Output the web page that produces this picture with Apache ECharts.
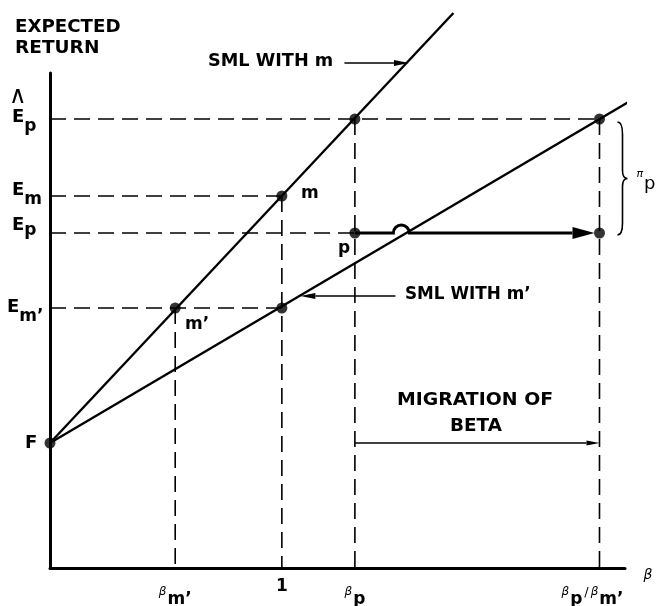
<!DOCTYPE html>
<html><head><meta charset="utf-8">
<script src="https://cdn.jsdelivr.net/npm/echarts@6/dist/echarts.min.js"></script>
<style>html,body{margin:0;padding:0;background:#fff}#c{width:659px;height:606px}</style>
</head><body><div id="c"></div>
<script>
// ---- data ----
const betaTicks = [0.54, 1, 1.315, 2.37];
const betaTickLabels = ['{b|β}{s|m’}', '{n|1}', '{b|β}{s|p}', '{b|β}{s|p}{sl|/}{b|β}{se|m’}'];
const returnTicks = [1.25, 2.60, 3.35, 3.72, 4.49];
const returnTickLabels = ['{F|F}', '{Ed|E}{sd|m’}', '{Ec|E}{sc|p}', '{Eb|E}{sb|m}', '{hat|∧}\n{Ea|E}{sa|p}\n{gap| }'];
const smlM = [[0, 1.25], [1.74, 5.55]];
const smlMPrime = [[0, 1.25], [2.62, 4.83]];
const keyPoints = [[0, 1.25], [0.54, 2.60], [1, 3.72], [1, 2.60], [1.315, 3.35], [1.315, 4.49], [2.37, 4.49], [2.37, 3.35]];
const dashedSegments = [
  [[0, 4.49], [2.37, 4.49]],
  [[0, 3.72], [1, 3.72]],
  [[0, 3.35], [1.315, 3.35]],
  [[0, 2.60], [1, 2.60]],
  [[0.54, 2.60], [0.54, 0]],
  [[1, 3.72], [1, 0]],
  [[1.315, 4.49], [1.315, 0]],
  [[2.37, 4.49], [2.37, 0]]
];
const pointerArrows = [[1.27, 5.05, 1.548, 5.05], [1.49, 2.72, 1.08, 2.72]];
const migrationArrow = [[1.315, 1.25, 2.37, 1.25]];
const portfolioShift = [[1.315, 3.35, 2.37, 3.35]];
const premiumBrace = [[2.37, 4.49, 3.35]];

const FONT = '"DejaVu Sans", sans-serif';
const chart = echarts.init(document.getElementById('c'), null, {renderer: 'canvas'});

function arrowItem(lw, headLen, headW) {
  return function (params, api) {
    const s = api.coord([api.value(0), api.value(1)]);
    const e = api.coord([api.value(2), api.value(3)]);
    const dx = e[0] - s[0], dy = e[1] - s[1];
    const L = Math.sqrt(dx * dx + dy * dy), ux = dx / L, uy = dy / L;
    const bx = e[0] - ux * headLen, by = e[1] - uy * headLen;
    return {
      type: 'group', children: [
        {type: 'line', shape: {x1: s[0], y1: s[1], x2: bx, y2: by}, style: {stroke: '#000', lineWidth: lw}},
        {type: 'polygon', shape: {points: [[e[0], e[1]], [bx - uy * headW / 2, by + ux * headW / 2], [bx + uy * headW / 2, by - ux * headW / 2]]}, style: {fill: '#000'}}
      ]
    };
  };
}

const series = [];
dashedSegments.forEach(function (seg) {
  series.push({type: 'line', data: seg, symbol: 'none', clip: false, silent: true,
    lineStyle: {color: '#000', width: 1.6, type: [16, 8]}});
});
series.push({type: 'line', data: smlM, symbol: 'none', clip: false, lineStyle: {color: '#000', width: 2.4}});
series.push({type: 'line', data: smlMPrime, symbol: 'none', clip: false, lineStyle: {color: '#000', width: 2.4}});
series.push({type: 'custom', data: pointerArrows, clip: false, renderItem: arrowItem(1.5, 15, 6)});
series.push({type: 'custom', data: migrationArrow, clip: false, renderItem: arrowItem(1.5, 13, 5)});
series.push({type: 'custom', data: portfolioShift, clip: false, renderItem: function (params, api) {
  const y = api.value(1);
  const s = api.coord([api.value(0), y]);
  const e = api.coord([api.value(2), y]);
  const slope = (smlMPrime[1][1] - smlMPrime[0][1]) / (smlMPrime[1][0] - smlMPrime[0][0]);
  const cross = api.coord([smlMPrime[0][0] + (y - smlMPrime[0][1]) / slope, y]);
  const r = 8, headLen = 22, headW = 12;
  const tip = e[0] - 5, base = tip - headLen;
  const hx = cross[0] - 5;
  const d = 'M' + s[0] + ' ' + s[1] + ' L' + (hx - r) + ' ' + s[1] +
    ' A' + r + ' ' + r + ' 0 0 1 ' + (hx + r) + ' ' + s[1] + ' L' + base + ' ' + s[1];
  return {type: 'group', children: [
    {type: 'path', shape: {pathData: d}, style: {stroke: '#000', lineWidth: 3, fill: null}},
    {type: 'polygon', shape: {points: [[tip, s[1]], [base, s[1] - headW / 2], [base, s[1] + headW / 2]]}, style: {fill: '#000'}}
  ]};
}});
series.push({type: 'custom', data: premiumBrace, clip: false, renderItem: function (params, api) {
  const t = api.coord([api.value(0), api.value(1)]);
  const b = api.coord([api.value(0), api.value(2)]);
  const x0 = t[0] + 18, yT = t[1] + 3, yB = b[1] + 2, ym = (yT + yB) / 2;
  const d = 'M' + x0 + ' ' + yT + ' Q' + (x0 + 5) + ' ' + yT + ' ' + (x0 + 5) + ' ' + (yT + 12) +
    ' L' + (x0 + 5) + ' ' + (ym - 8) + ' Q' + (x0 + 5) + ' ' + ym + ' ' + (x0 + 10) + ' ' + ym +
    ' Q' + (x0 + 5) + ' ' + ym + ' ' + (x0 + 5) + ' ' + (ym + 8) +
    ' L' + (x0 + 5) + ' ' + (yB - 12) + ' Q' + (x0 + 5) + ' ' + yB + ' ' + x0 + ' ' + yB;
  return {type: 'group', children: [
    {type: 'path', shape: {pathData: d}, style: {stroke: '#000', lineWidth: 1.6, fill: null}},
    {type: 'text', style: {text: '{pi|π}{p|p}', x: x0 + 19, y: ym, verticalAlign: 'middle',
      rich: {pi: {fontSize: 11, fontFamily: FONT, fontStyle: 'italic', lineHeight: 14, padding: [0, 1, 8, 0]},
             p: {fontSize: 18, fontFamily: FONT, lineHeight: 14, padding: [12, 0, 0, 0]}}}}
  ]};
}});
series.push({type: 'scatter', data: keyPoints, symbol: 'circle', symbolSize: 11, clip: false,
  itemStyle: {color: '#000'}, z: 5});

function txt(text, x, y, sx, align) {
  return {type: 'text', x: x, y: y, scaleX: sx || 1,
    style: {text: text, x: 0, y: 0, fill: '#000', font: 'bold 17px ' + FONT,
      verticalAlign: 'middle', align: align || 'left'}};
}

function st(size, weight, shift, extra) {
  // shift > 0 moves the glyph down, < 0 moves it up (half the padding difference)
  const pad = shift >= 0 ? [2 * shift, 0, 0, 0] : [0, 0, -2 * shift, 0];
  if (extra) { pad[1] = extra[1] || 0; pad[3] = extra[3] || 0; }
  return {fontSize: size, fontFamily: FONT, fontWeight: weight, lineHeight: 18, padding: pad, color: '#000'};
}

const option = {
  animation: false,
  backgroundColor: '#fff',
  grid: {left: 50, top: 73, right: 34, bottom: 38, containLabel: false, outerBoundsMode: 'none'},
  xAxis: {
    type: 'value', min: 0, max: 2.48,
    axisLine: {show: true, onZero: false, lineStyle: {color: '#000', width: 3}},
    axisTick: {show: false}, splitLine: {show: false},
    name: 'β', nameLocation: 'end', nameGap: 7,
    nameTextStyle: {fontFamily: FONT, fontSize: 14, fontStyle: 'italic', color: '#000', verticalAlign: 'top', lineHeight: 14},
    axisLabel: {
      customValues: betaTicks, margin: 10, color: '#000', hideOverlap: false,
      formatter: function (v) { const i = betaTicks.indexOf(v); return i < 0 ? '' : betaTickLabels[i]; },
      rich: {
        b: Object.assign(st(12, 'normal', 5, [0, 1, 0, 0]), {fontStyle: 'italic'}),
        s: st(17, 'bold', 13),
        se: st(17, 'bold', 13, [0, 14, 0, 0]),
        sl: st(13, 'normal', 6, [0, 2, 0, 2]),
        n: st(17, 'bold', 0)
      }
    }
  },
  yAxis: {
    type: 'value', min: 0, max: 4.95,
    axisLine: {show: true, onZero: false, lineStyle: {color: '#000', width: 3}},
    axisTick: {show: false}, splitLine: {show: false},
    axisLabel: {
      customValues: returnTicks, margin: 43, align: 'left', color: '#000', hideOverlap: false,
      formatter: function (v) { const i = returnTicks.indexOf(v); return i < 0 ? '' : returnTickLabels[i]; },
      rich: {
        Ea: st(18, 'bold', -4.5, [0, 0, 0, 5]),
        Eb: st(18, 'bold', -6, [0, 0, 0, 5]),
        Ec: st(18, 'bold', -8, [0, 0, 0, 5]),
        Ed: st(18, 'bold', -1, [0, 0, 0, 0]),
        sa: st(17, 'bold', 5),
        sb: st(17, 'bold', 4),
        sc: st(17, 'bold', -2),
        sd: st(17, 'bold', 9),
        F: st(18, 'bold', 0, [0, 0, 0, 18]),
        hat: Object.assign(st(24, 'normal', -6.5, [0, 0, 0, 2]), {lineHeight: 20}),
        gap: {fontSize: 10, lineHeight: 14}
      }
    }
  },
  graphic: [
    txt('EXPECTED', 15, 28, 1.07),
    txt('RETURN', 15, 49, 1.09),
    txt('SML WITH m', 208, 62, 1.04),
    txt('SML WITH m’', 405, 295, 0.99),
    txt('m', 301, 194),
    txt('p', 338, 249),
    txt('m’', 185, 325),
    txt('MIGRATION OF', 475, 401, 1.11, 'center'),
    txt('BETA', 476, 427, 1.08, 'center')
  ],
  series: series
};
chart.setOption(option);
</script>
</body></html>
